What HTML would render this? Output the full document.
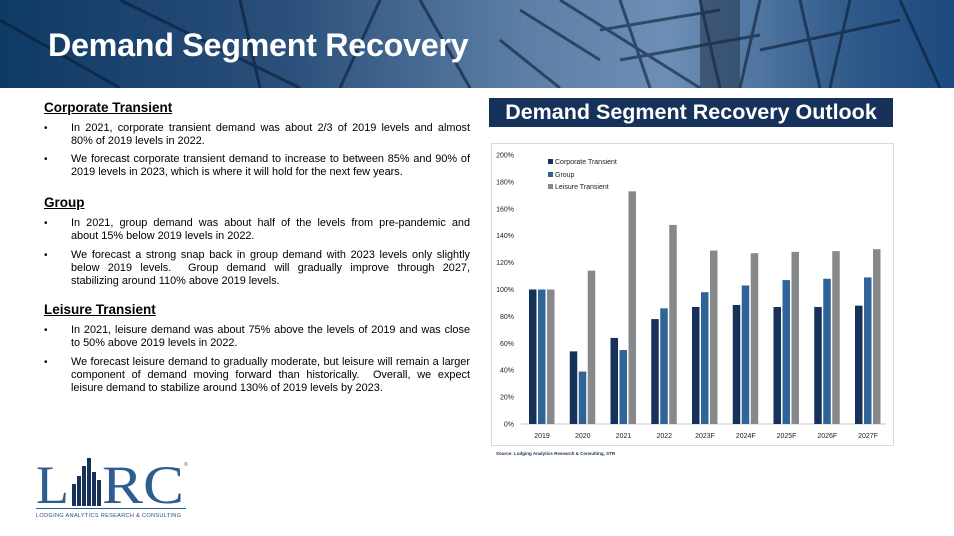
<!DOCTYPE html>
<html><head><meta charset="utf-8"><style>
body{margin:0;width:954px;height:536px;position:relative;overflow:hidden;background:#fff;font-family:"Liberation Sans",Arial,sans-serif;}
.hdr{position:absolute;left:0;top:0;width:954px;height:88px;background:linear-gradient(90deg,#0f3a66 0%,#2a4f7a 30%,#5d7fa6 55%,#6d8fb6 70%,#2e5888 90%,#1c4a80 100%);overflow:hidden}
.hdr h1{position:absolute;left:48px;top:27px;margin:0;color:#fff;font-size:32.3px;font-weight:bold;letter-spacing:-0.3px}
.h{position:absolute;left:44px;font-size:13.5px;font-weight:bold;text-decoration:underline;color:#000}
.p{position:absolute;left:71px;width:399px;font-size:10.9px;line-height:13px;color:#000}
.p div{text-align:justify;text-align-last:justify;white-space:nowrap}
.p div.l{text-align-last:left}
.b{position:absolute;left:44px;font-size:10px;color:#000}
.t{position:absolute;left:0;top:2px;width:480px;height:400px}
</style></head><body>
<div class="hdr">
<svg width="954" height="88" style="position:absolute;left:0;top:0">
<g stroke="#0a1c33" stroke-width="3" opacity="0.6" fill="none">
<path d="M120 0 L300 88"/><path d="M0 20 L120 88"/><path d="M240 0 L260 88"/><path d="M380 0 L340 88"/>
<path d="M420 0 L470 88"/><path d="M520 10 L600 60"/><path d="M500 40 L560 88"/><path d="M560 0 L700 88"/>
<path d="M620 0 L650 88"/><path d="M700 0 L720 88"/><path d="M760 0 L740 88"/><path d="M800 0 L820 88"/>
<path d="M850 0 L830 88"/><path d="M600 30 L720 10"/><path d="M620 60 L760 35"/><path d="M760 50 L900 20"/>
<path d="M900 0 L940 88"/></g>
<rect x="700" y="0" width="40" height="88" fill="#1a2a40" opacity="0.5"/>
</svg>
<h1>Demand Segment Recovery</h1></div>

<div class="t">
<div class="h" style="top:98px">Corporate Transient</div>
<div class="b" style="top:121px">•</div><div class="p" style="top:120px"><div>In 2021, corporate transient demand was about 2/3 of 2019 levels and almost</div><div class="l">80% of 2019 levels in 2022.</div></div>
<div class="b" style="top:152px">•</div><div class="p" style="top:151px"><div>We forecast corporate transient demand to increase to between 85% and 90% of</div><div class="l">2019 levels in 2023, which is where it will hold for the next few years.</div></div>
<div class="h" style="top:193px">Group</div>
<div class="b" style="top:216px">•</div><div class="p" style="top:215px"><div>In 2021, group demand was about half of the levels from pre-pandemic and</div><div class="l">about 15% below 2019 levels in 2022.</div></div>
<div class="b" style="top:248px">•</div><div class="p" style="top:247px"><div>We forecast a strong snap back in group demand with 2023 levels only slightly</div><div>below 2019 levels.&nbsp; Group demand will gradually improve through 2027,</div><div class="l">stabilizing around 110% above 2019 levels.</div></div>
<div class="h" style="top:300px">Leisure Transient</div>
<div class="b" style="top:323px">•</div><div class="p" style="top:322px"><div>In 2021, leisure demand was about 75% above the levels of 2019 and was close</div><div class="l">to 50% above 2019 levels in 2022.</div></div>
<div class="b" style="top:355px">•</div><div class="p" style="top:354px"><div>We forecast leisure demand to gradually moderate, but leisure will remain a larger</div><div>component of demand moving forward than historically.&nbsp; Overall, we expect</div><div class="l">leisure demand to stabilize around 130% of 2019 levels by 2023.</div></div>
</div>

<svg width="200" height="80" style="position:absolute;left:30px;top:450px">
<text x="6" y="53" font-family="Liberation Serif,serif" font-size="54" fill="#2e5d8f">L</text>
<g fill="#17325a"><rect x="42" y="34" width="4" height="22"/><rect x="47" y="26" width="4" height="30"/><rect x="52" y="16" width="4" height="40"/><rect x="57" y="8" width="4" height="48"/><rect x="62" y="22" width="4" height="34"/><rect x="67" y="30" width="4" height="26"/></g>
<text x="72" y="53" font-family="Liberation Serif,serif" font-size="54" fill="#2e5d8f" textLength="82" lengthAdjust="spacingAndGlyphs">RC</text>
<text x="154" y="16" font-size="5" fill="#2e5d8f">®</text>
<rect x="6" y="58" width="150" height="1" fill="#2e5d8f"/>
<text x="6" y="67" font-size="5.6" fill="#2e4d70" font-family="Liberation Sans,sans-serif" textLength="145">LODGING ANALYTICS RESEARCH &amp; CONSULTING</text>
</svg>

<div style="position:absolute;left:489px;top:98px;width:404px;height:29px;background:#17325a;color:#fff;font-weight:bold;font-size:21.5px;line-height:29px;text-align:center">Demand Segment Recovery Outlook</div>
<div style="position:absolute;left:491px;top:143px;width:401px;height:301px;border:1px solid #d6dbe3"></div>
<svg width="954" height="536" style="position:absolute;left:0;top:0" font-family="Liberation Sans,sans-serif">
<g font-size="7" fill="#222" text-anchor="end" id="yt"></g>
<line x1="521" y1="424" x2="886" y2="424" stroke="#c8c8c8"/>
<g id="bars"></g>
<g font-size="7" fill="#222">
<rect x="548" y="159" width="5" height="5" fill="#17325a"/><text x="555" y="164">Corporate Transient</text>
<rect x="548" y="172" width="5" height="5" fill="#2e6497"/><text x="555" y="177">Group</text>
<rect x="548" y="184" width="5" height="5" fill="#86888b"/><text x="555" y="189">Leisure Transient</text>
</g>
<text x="496" y="455" font-size="4.5" font-weight="bold" fill="#17325a">Source: Lodging Analytics Research &amp; Consulting, STR</text>
</svg>
<script>
var ns="http://www.w3.org/2000/svg";
var yt=document.getElementById("yt");
for(var i=0;i<=10;i++){var t=document.createElementNS(ns,"text");t.setAttribute("x",514);t.setAttribute("y",424-i*26.9+2.5);t.textContent=(i*20)+"%";yt.appendChild(t);}
var c=[100,54,64,78,87,88.5,87,87,88],g=[100,39,55,86,98,103,107,108,109],l=[100,114,173,148,129,127,128,128.5,130];
var lab=["2019","2020","2021","2022","2023F","2024F","2025F","2026F","2027F"];
var bg=document.getElementById("bars");
function r(x,v,col){var e=document.createElementNS(ns,"rect");var h=v*1.345;e.setAttribute("x",x);e.setAttribute("y",424-h);e.setAttribute("width",7.5);e.setAttribute("height",h);e.setAttribute("fill",col);bg.appendChild(e);}
for(var k=0;k<9;k++){var cx=542+k*40.75;r(cx-13,c[k],"#17325a");r(cx-4,g[k],"#2e6497");r(cx+5,l[k],"#86888b");
var t=document.createElementNS(ns,"text");t.setAttribute("x",cx);t.setAttribute("y",438);t.setAttribute("font-size","7");t.setAttribute("text-anchor","middle");t.setAttribute("fill","#222");t.textContent=lab[k];bg.appendChild(t);}
</script>
</body></html>
